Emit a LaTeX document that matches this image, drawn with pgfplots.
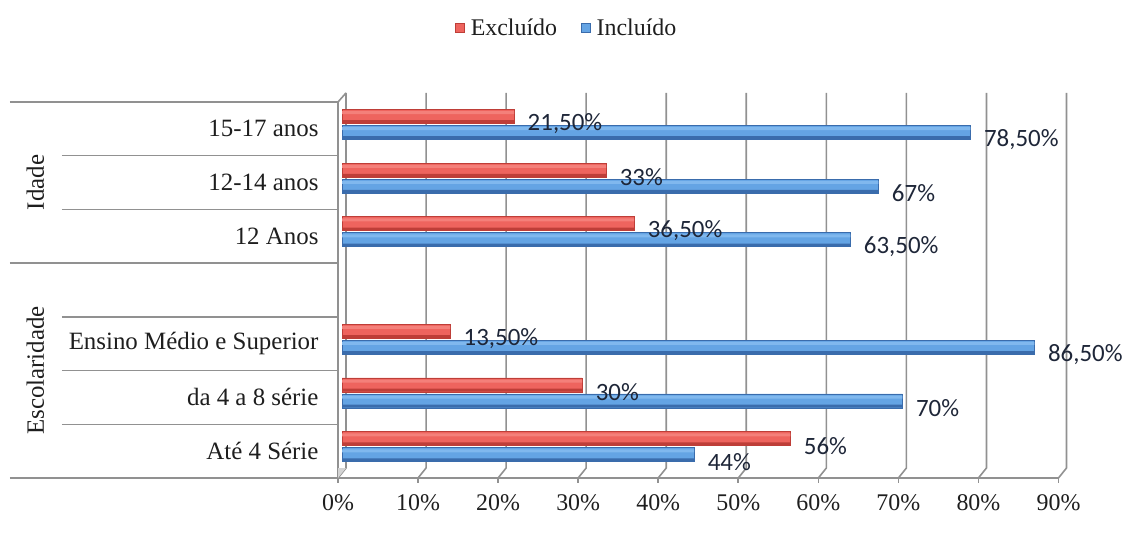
\documentclass[border=0pt]{standalone}
\usepackage{pgfplots}
\pgfplotsset{compat=1.18}
\usepackage{fontspec}
\setmainfont{Liberation Serif}
\newfontfamily\calib{Carlito}
\definecolor{redbar}{RGB}{238,100,94}
\definecolor{redbarL}{RGB}{244,128,122}
\definecolor{redbarD}{RGB}{190,62,56}
\definecolor{bluebar}{RGB}{100,164,228}
\definecolor{bluebarL}{RGB}{128,184,238}
\definecolor{bluebarD}{RGB}{58,108,172}
\definecolor{gridc}{RGB}{145,145,145}
\definecolor{txt}{RGB}{30,30,30}
\definecolor{lbl}{RGB}{30,38,56}

\pgfplotstableread{
p v l
0 56 56
1 30 30
2 13.5 13,50
4 36.5 36,50
5 33 33
6 21.5 21,50
}\excl
\pgfplotstableread{
p v l
0 44 44
1 70 70
2 86.5 86,50
4 63.5 63,50
5 67 67
6 78.5 78,50
}\incl

\begin{document}
\begin{tikzpicture}[x=1bp,y=1bp]
\useasboundingbox (0,0) rectangle (1131,540);
\begin{axis}[
  at={(342bp,62bp)}, anchor=south west,
  scale only axis, width=720.5bp, height=376bp,
  xmin=0, xmax=90, ymin=-0.5, ymax=6.5,
  xtick={0,10,...,90},
  xticklabel={\pgfmathprintnumber[assume math mode=true]{\tick}\%},
  xticklabel style={font=\fontsize{24}{28}\selectfont, text=txt, yshift=-13bp, xshift=-4bp},
  ytick={0,1,2,4,5,6},
  yticklabels={Até 4 Série, da 4 a 8 série, Ensino Médio e Superior, 12 Anos, 12-14 anos, 15-17 anos},
  yticklabel style={font=\fontsize{25}{29}\selectfont, text=txt, xshift=-20bp},
  axis line style={draw=none},
  major tick length=0pt, tick style={draw=none},
  xbar, bar width=14bp,
  clip=false,
  legend style={at={(0.312,1.197)}, anchor=center, draw=none, fill=none,
    legend columns=2, font=\fontsize{24}{28}\selectfont, text=txt,
    /tikz/every even column/.append style={column sep=22bp}},
  legend image code/.code={\fill[#1] (0bp,-4bp) rectangle (9bp,5bp); \path (13bp,0bp);},
  point meta=explicit symbolic,
  every node near coord/.append style={font=\calib\fontsize{25}{30}\selectfont, anchor=west, xshift=10bp, yshift=-7bp, text=lbl},
]
% grid / 3D frame
\pgfplotsinvokeforeach{0,10,...,90}{
  \draw[gridc, line width=1.6bp] (axis cs:#1+0.5,6.668) -- (axis cs:#1+0.5,-0.314) -- (axis cs:#1-0.5,-0.5);
  \draw[gridc, line width=1.6bp] (axis cs:#1-0.5,-0.5) -- (axis cs:#1-0.5,-0.6);
}
\draw[gridc, line width=1.6bp] (axis cs:-41.5,-0.5) -- (axis cs:89.5,-0.5);
\draw[gridc, line width=1.6bp] (axis cs:-0.5,-0.5) -- (axis cs:-0.5,6.5) -- (axis cs:0.5,6.668);
\fill[gridc!40] (axis cs:-0.5,-0.5) -- (axis cs:0.5,-0.314) -- (axis cs:-0.5,-0.314) -- cycle;
% category separators
\draw[gridc, line width=1.4bp] (axis cs:-41.5,6.5) -- (axis cs:-0.5,6.5);
\draw[gridc, line width=1.4bp] (axis cs:-41.5,3.5) -- (axis cs:-0.5,3.5);
\draw[gridc, line width=1.4bp] (axis cs:-35,5.5) -- (axis cs:-0.5,5.5);
\draw[gridc, line width=1.4bp] (axis cs:-35,4.5) -- (axis cs:-0.5,4.5);
\draw[gridc, line width=1.4bp] (axis cs:-35,2.5) -- (axis cs:-0.5,2.5);
\draw[gridc, line width=1.4bp] (axis cs:-35,1.5) -- (axis cs:-0.5,1.5);
\draw[gridc, line width=1.4bp] (axis cs:-35,0.5) -- (axis cs:-0.5,0.5);
\node[rotate=90, font=\fontsize{25}{29}\selectfont, text=txt] at (axis cs:-38.3,5) {Idade};
\node[rotate=90, font=\fontsize{25}{29}\selectfont, text=txt] at (axis cs:-38.3,1.5) {Escolaridade};
% bars
\addplot[draw=redbarD, line width=0.6bp, fill=redbar, bar shift=12.5bp,
  nodes near coords={\pgfplotspointmeta\%}]
  table[x=v, y=p, meta=l] {\excl};
\addplot[draw=bluebarD, line width=0.6bp, fill=bluebar, bar shift=-3.5bp,
  nodes near coords={\pgfplotspointmeta\%}]
  table[x=v, y=p, meta=l] {\incl};
\addplot[forget plot, draw=none, fill=redbarD, bar width=3bp, bar shift=7.2bp]
  table[x=v, y=p] {\excl};
\addplot[forget plot, draw=none, fill=redbarL, bar width=3bp, bar shift=16.3bp]
  table[x=v, y=p] {\excl};
\addplot[forget plot, draw=none, fill=bluebarD, bar width=3bp, bar shift=-8.8bp]
  table[x=v, y=p] {\incl};
\addplot[forget plot, draw=none, fill=bluebarL, bar width=3bp, bar shift=0.3bp]
  table[x=v, y=p] {\incl};
\legend{Excluído, Incluído}
\end{axis}
\end{tikzpicture}
\end{document}
